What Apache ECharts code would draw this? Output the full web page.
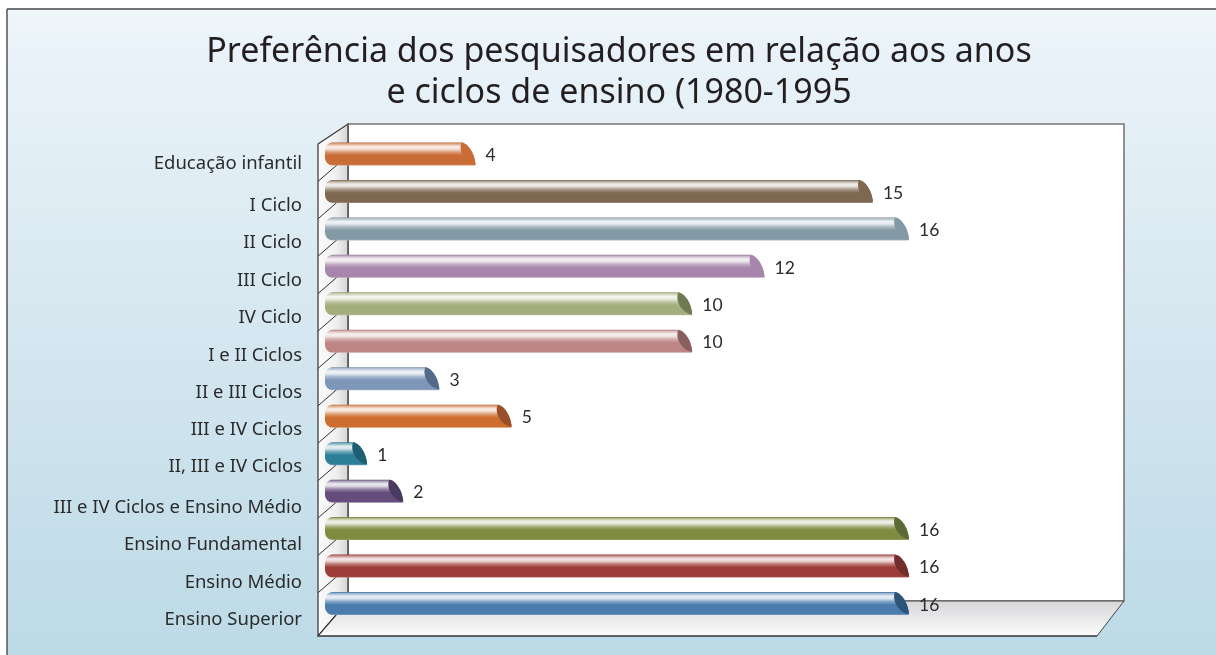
<!DOCTYPE html>
<html>
<head>
<meta charset="utf-8">
<style>html,body{margin:0;padding:0;background:#fff}#c{width:1216px;height:655px}</style>
<script src="https://cdn.jsdelivr.net/npm/echarts@6/dist/echarts.min.js"></script>
</head>
<body>
<div id="c"></div>
<script>
var titleText = 'Preferência dos pesquisadores em relação aos anos\ne ciclos de ensino (1980-1995';
var categories = ['Educação infantil','I Ciclo','II Ciclo','III Ciclo','IV Ciclo','I e II Ciclos','II e III Ciclos','III e IV Ciclos','II, III e IV Ciclos','III e IV Ciclos e Ensino Médio','Ensino Fundamental','Ensino Médio','Ensino Superior'];
var values = [4,15,16,12,10,10,3,5,1,2,16,16,16];
var barColors = ['#C96C36','#7F6851','#8499A6','#A885AA','#A4AE7C','#BD8685','#7E96B8','#CE6E2E','#2D7F97','#644D7D','#7F8B3F','#9E3C39','#4A7DAD'];
var capColors = ['#C96C36','#7F6851','#8499A6','#A885AA','#6E7A52','#8A5F5F','#55698A','#99502A','#1F5F73','#4A3A60','#5C6A38','#722E2E','#2C5478'];
var labelDrops = [10,14,14,14,14,14,14,14,13,17,16,17,16];

function mix(hex, other, t){
  var a=parseInt(hex.slice(1),16), b=parseInt(other.slice(1),16);
  var c=[16,8,0].map(function(s){return Math.round(((a>>s)&255)*(1-t)+((b>>s)&255)*t);});
  return 'rgb('+c.join(',')+')';
}
function bez(p0,p1,p2,p3){
  var out=[];
  for(var i=0;i<=14;i++){
    var t=i/14,u=1-t;
    out.push([u*u*u*p0[0]+3*u*u*t*p1[0]+3*u*t*t*p2[0]+t*t*t*p3[0],
              u*u*u*p0[1]+3*u*u*t*p1[1]+3*u*t*t*p2[1]+t*t*t*p3[1]]);
  }
  return out;
}
function renderBar(params, api){
  var i = api.value(1), v = api.value(0);
  var start = api.coord([0,i]), end = api.coord([v,i]);
  var H = 23, top = start[1]-H/2, bot = start[1]+H/2;
  var L = start[0]-6, R = end[0], r = 8;
  var base = barColors[i], cap = capColors[i];
  var tipTop = [R-14,top], tipBot = [R,bot-1];
  var outline = [].concat(
    bez([L+r,top],[L+r,top],tipTop,tipTop),
    bez(tipTop,[R-7,top+1],[R-1,top+11],tipBot),
    bez(tipBot,[R,bot],[R-1,bot],[R-2,bot]),
    bez([L+r,bot],[L+r*0.4,bot],[L,bot-r*0.5],[L,bot-r]),
    bez([L,top+r],[L,top+r*0.5],[L+r*0.4,top],[L+r,top])
  );
  var leaf = [].concat(
    bez(tipTop,[R-7,top+1],[R-1,top+11],tipBot),
    bez(tipBot,[R-8,bot-1],[R-18,top+10],tipTop)
  );
  var grad = new echarts.graphic.LinearGradient(0,0,0,1,[
    {offset:0,color:mix(base,'#000000',0.12)},
    {offset:0.05,color:mix(base,'#ffffff',0.35)},
    {offset:0.18,color:mix(base,'#ffffff',0.88)},
    {offset:0.28,color:mix(base,'#ffffff',0.8)},
    {offset:0.42,color:mix(base,'#ffffff',0.3)},
    {offset:0.56,color:base},
    {offset:0.95,color:base},
    {offset:1,color:mix(base,'#ffffff',0.3)}
  ]);
  return {type:'group',children:[
    {type:'polygon',shape:{points:outline},style:{fill:grad}},
    {type:'polygon',shape:{points:leaf},style:{fill:cap}},
    {type:'text',style:{x:R+10,y:start[1]+1.5,text:String(v),fill:'#2b2b2b',font:'17.5px Lato',verticalAlign:'middle',align:'left'},z2:20}
  ]};
}

var frame = [];
// backdrop
frame.push({type:'rect',shape:{x:7,y:9,width:1209,height:646},z:0,silent:true,style:{
  fill:new echarts.graphic.LinearGradient(0,0,0,1,[
    {offset:0,color:'#EFF7FA'},{offset:0.07,color:'#E9F2F9'},{offset:0.3,color:'#DFECF4'},{offset:1,color:'#BCDAE6'}])}});
frame.push({type:'line',shape:{x1:7,y1:9,x2:1216,y2:9},z:1,silent:true,style:{stroke:'#444',lineWidth:1.5}});
frame.push({type:'line',shape:{x1:7,y1:9,x2:7,y2:655},z:1,silent:true,style:{stroke:'#555',lineWidth:1.5}});
// back wall
frame.push({type:'rect',shape:{x:348,y:124,width:776,height:477},z:1,silent:true,style:{fill:'#fff',stroke:'#777',lineWidth:1.6}});
// floor
frame.push({type:'polygon',shape:{points:[[348,601],[1124,601],[1097,636],[318,636]]},z:1,silent:true,style:{
  fill:new echarts.graphic.LinearGradient(0,0,0,1,[{offset:0,color:'#D6D7D9'},{offset:1,color:'#FBFBFB'}])}});
frame.push({type:'line',shape:{x1:348,y1:601,x2:1124,y2:601},z:1,silent:true,style:{stroke:'#444',lineWidth:1.2}});
frame.push({type:'line',shape:{x1:318,y1:636,x2:1097,y2:636},z:1,silent:true,style:{stroke:'#333',lineWidth:1.3}});
frame.push({type:'line',shape:{x1:1097,y1:636,x2:1124,y2:601},z:1,silent:true,style:{stroke:'#444',lineWidth:1}});
// side wall
frame.push({type:'polygon',shape:{points:[[318,144],[348,124],[348,601],[318,636]]},z:1,silent:true,style:{
  fill:new echarts.graphic.LinearGradient(0,0,1,0,[{offset:0,color:'#FBFBFB'},{offset:0.6,color:'#F0F0F0'},{offset:1,color:'#D2D3D4'}]),stroke:'#333',lineWidth:1.2}});
frame.push({type:'line',shape:{x1:348,y1:124,x2:348,y2:601},z:1,silent:true,style:{stroke:'#666',lineWidth:1.2}});
for(var k=1;k<categories.length;k++){
  var yy=144+37.4*k;
  frame.push({type:'line',shape:{x1:318,y1:yy,x2:348,y2:yy-26},z:1,silent:true,style:{stroke:'#333',lineWidth:1}});
}
frame.push({type:'line',shape:{x1:318,y1:636,x2:348,y2:601},z:1,silent:true,style:{stroke:'#333',lineWidth:1}});

var rich = {};
labelDrops.forEach(function(d){
  rich['d'+d]={padding:[d*2,0,0,0],fontFamily:'Noto Sans',fontSize:18.5,color:'#2b2b2b'};
});

var chart = echarts.init(document.getElementById('c'),null,{renderer:'canvas'});
chart.setOption({
  animation:false,
  backgroundColor:'#fff',
  title:{text:titleText,left:614,textAlign:'center',top:27,textStyle:{fontFamily:'Noto Sans',fontWeight:'normal',fontSize:34,lineHeight:41,color:'#231f20'}},
  graphic:{elements:frame},
  grid:{left:331,top:135.25,width:578,height:487,containLabel:false},
  xAxis:{type:'value',min:0,max:16,show:false},
  yAxis:{type:'category',data:categories,inverse:true,axisLine:{show:false},axisTick:{show:false},splitLine:{show:false},
    axisLabel:{margin:29,interval:0,formatter:function(val,idx){return '{d'+labelDrops[idx]+'|'+val+'}';},rich:rich}},
  series:[{type:'custom',z:5,coordinateSystem:'cartesian2d',clip:false,renderItem:renderBar,
    data:values.map(function(v,i){return [v,i];}),encode:{x:0,y:1}}]
});
</script>
</body>
</html>
